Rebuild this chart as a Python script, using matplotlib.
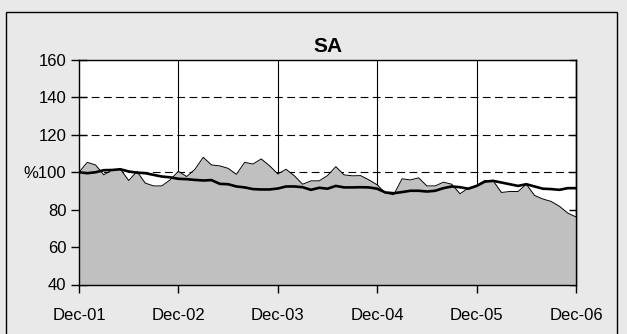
import matplotlib
matplotlib.use("Agg")
import matplotlib.pyplot as plt
from matplotlib.patches import Rectangle

plt.rcParams['font.family'] = ['Liberation Sans', 'DejaVu Sans']

title = "SA"
tick_labels = ["Dec-01", "Dec-02", "Dec-03", "Dec-04", "Dec-05", "Dec-06"]
y_ticks = [40, 60, 80, 100, 120, 140, 160]
y_tick_labels = ["40", "60", "80", "%100", "120", "140", "160"]

area_values = [100, 105.3, 103.9, 98.6, 101.2, 101.6, 95.6, 100.4, 94.2, 92.7,
               92.7, 95.9, 100.5, 97.7, 101.6, 108, 103.9, 103.4, 102.1, 98.9,
               105.3, 104.4, 107.1, 103.5, 99.1, 101.6, 98.1, 93.6, 95.4, 95.4,
               98.2, 103, 98.6, 98.1, 98.2, 95.9, 93.3, 88.8, 88, 96.5,
               95.9, 97, 92.7, 92.7, 94.7, 93.6, 88.5, 91.5, 92.9, 95.6,
               95.4, 89.2, 89.7, 89.7, 93.6, 87.6, 85.7, 84.4, 81.8, 78.2, 76.1]

line_values = [100, 99.5, 100, 101.1, 101.2, 101.6, 100.4, 99.8, 99.5, 98.6,
               97.7, 97.3, 96.5, 96.3, 95.9, 95.6, 95.8, 93.8, 93.6, 92.4,
               91.9, 91, 90.8, 90.8, 91.3, 92.4, 92.4, 92, 90.6, 91.7,
               91.2, 92.7, 91.9, 91.9, 92, 91.9, 91.2, 89.2, 88.8, 89.4,
               90.1, 90.1, 89.7, 90.1, 91.5, 92.4, 92, 91.2, 92.7, 95,
               95.4, 94.5, 93.6, 92.7, 93.6, 92.4, 91.2, 91, 90.6, 91.5, 91.5]

months = list(range(len(area_values)))
tick_pos = [0, 12, 24, 36, 48, 60]

W, H = 627, 334
fig = plt.figure(figsize=(W / 100, H / 100), dpi=100)
fig.patch.set_facecolor("#E9E9E9")

# outer frame
fig.patches.append(Rectangle((6 / W, -0.05), (617 - 6) / W, 1.05 - 12 / H,
                             transform=fig.transFigure, fill=False,
                             edgecolor="black", linewidth=1.0))

ax = fig.add_axes([79 / W, 1 - 284.5 / H, (576 - 79) / W, (284.5 - 60) / H])
ax.set_facecolor("white")

ax.set_xlim(0, 60)
ax.set_ylim(40, 160)

# grid
for y in [100, 120, 140]:
    ax.axhline(y, color="black", linestyle=(0, (7, 4)), linewidth=0.8, zorder=1)
for x in tick_pos[1:-1]:
    ax.axvline(x, color="black", linewidth=0.8, zorder=1)

ax.fill_between(months, 40, area_values, color="#C0C0C0", zorder=2, linewidth=0)
ax.plot(months, area_values, color="black", linewidth=0.7, zorder=3)
ax.plot(months, line_values, color="black", linewidth=1.9, zorder=4)

ax.set_yticks(y_ticks)
ax.set_yticklabels(y_tick_labels, fontsize=12)
ax.set_xticks(tick_pos)
ax.set_xticklabels(tick_labels, fontsize=12)
ax.tick_params(axis="y", direction="inout", length=12, width=1, pad=3)
ax.tick_params(axis="x", direction="out", length=6, width=1, pad=11)

sec = ax.secondary_yaxis("right")
sec.set_yticks(y_ticks)
sec.tick_params(axis="y", direction="in", length=5, width=1, labelright=False)
sec.spines["right"].set_linewidth(1.0)

for s in ax.spines.values():
    s.set_linewidth(1.0)
    s.set_zorder(5)

ax.set_title(title, fontsize=15, fontweight="bold", pad=6)

fig.savefig("out.png", dpi=100, facecolor=fig.get_facecolor())
